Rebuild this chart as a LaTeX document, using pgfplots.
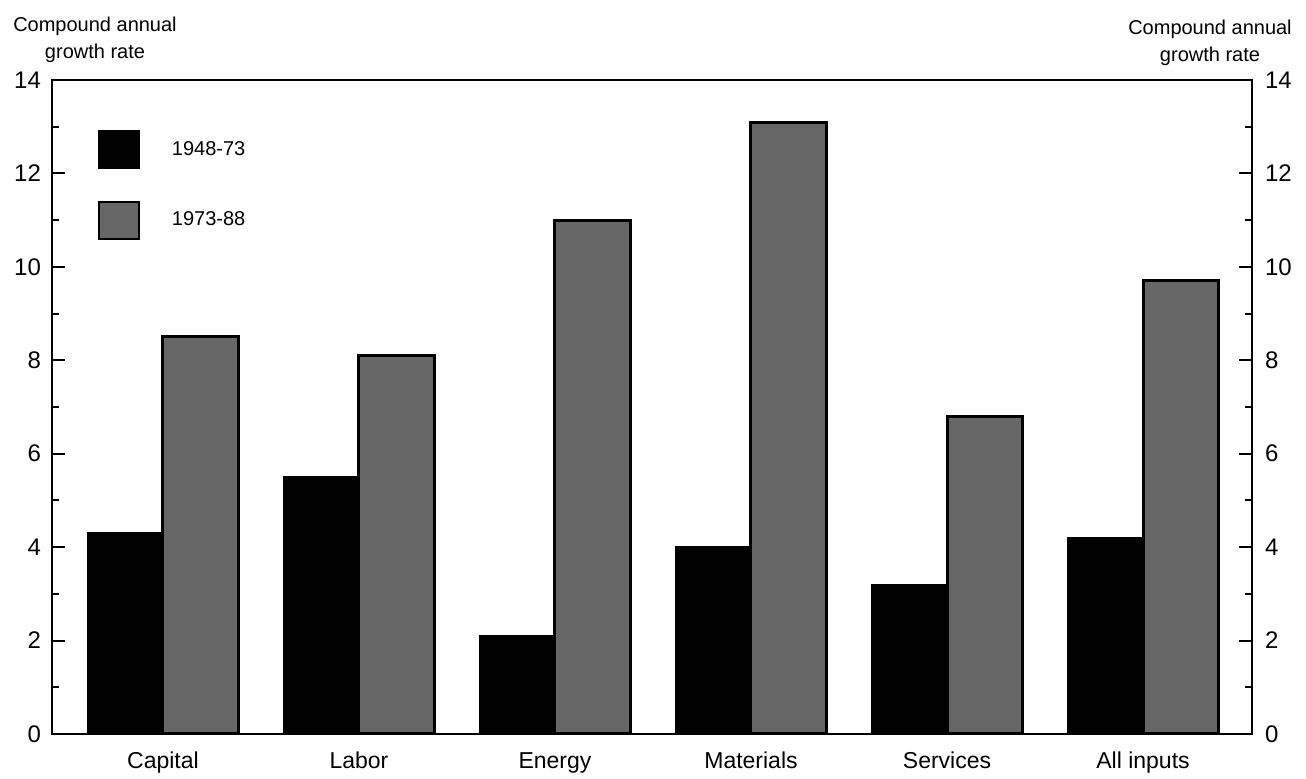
\documentclass[border=0pt]{standalone}
\usepackage{fontspec}
\setmainfont{Liberation Sans}
\usepackage{pgfplots}
\pgfplotsset{compat=1.18}

\begin{document}
\begin{tikzpicture}[x=1pt,y=1pt]
\path[use as bounding box] (-26pt,-22.5pt) rectangle (627pt,367pt);
\begin{axis}[
  at={(0pt,0pt)}, anchor=south west,
  scale only axis, width=600pt, height=327pt,
  xmin=-0.566, xmax=5.556, ymin=0, ymax=14,
  xtick={0,1,2,3,4,5},
  xticklabels={Capital,Labor,Energy,Materials,Services,All inputs},
  xtick style={draw=none},
  xticklabel style={font=\fontsize{11.5}{12}\selectfont, yshift=-5pt, text height=8.5pt, text depth=2.5pt},
  ytick={0,2,...,14}, minor ytick={1,3,...,13},
  ytick pos=both, yticklabel pos=left,
  tick align=inside,
  major tick length=6.5pt, minor tick length=3.5pt,
  every tick/.style={black, line width=1pt},
  axis line style={line width=1.2pt},
  yticklabel style={font=\fontsize{12}{12}\selectfont, xshift=-2pt},
  /pgf/number format/assume math mode=true,
  legend image code/.code={\draw[#1, line width=0.8pt] (0pt,-9.25pt) rectangle (20pt,9.25pt);},
  legend style={at={(0.0383,0.9235)}, anchor=north west, draw=none, fill=none,
    inner sep=0pt, row sep=16pt, font=\fontsize{10}{12}\selectfont,
    /tikz/every odd column/.append style={column sep=14pt}},
  legend cell align=left,
]
\addplot[ybar, bar width=0.383, bar shift=-0.1915, fill=black, draw=black, line width=1pt]
  coordinates {(0,4.3) (1,5.5) (2,2.1) (3,4.0) (4,3.2) (5,4.2)};
\addlegendentry{1948-73}
\addplot[ybar, bar width=0.383, bar shift=0.1915, fill=black!60, draw=black, line width=1.5pt]
  coordinates {(0,8.5) (1,8.1) (2,11.0) (3,13.1) (4,6.8) (5,9.7)};
\addlegendentry{1973-88}
\end{axis}
\begin{axis}[
  at={(0pt,0pt)}, anchor=south west,
  scale only axis, width=600pt, height=327pt,
  xmin=-0.566, xmax=5.556, ymin=0, ymax=14,
  axis y line*=right, hide x axis,
  ytick={0,2,...,14}, ytick style={draw=none},
  y axis line style={draw=none},
  yticklabel style={font=\fontsize{12}{12}\selectfont, xshift=3pt},
  /pgf/number format/assume math mode=true,
]
\end{axis}
\node[align=center, font=\fontsize{10}{13.5}\selectfont] at (21.5pt,347.25pt) {Compound annual\\growth rate};
\node[align=center, font=\fontsize{10}{13.5}\selectfont] at (579pt,345.5pt) {Compound annual\\growth rate};
\end{tikzpicture}
\end{document}
